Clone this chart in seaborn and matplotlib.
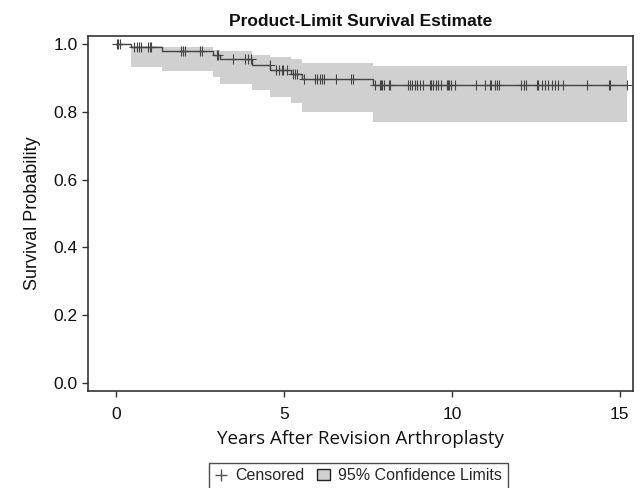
import numpy as np
import matplotlib
matplotlib.use("Agg")
import matplotlib.pyplot as plt
import seaborn as sns
from matplotlib.lines import Line2D
from matplotlib.patches import Patch

# Kaplan-Meier steps
event_years = [0.0, 0.45, 1.36, 2.90, 3.10, 4.06, 4.60, 5.20, 5.53, 7.66]
survival = [1.0, 0.991, 0.980, 0.969, 0.955, 0.939, 0.925, 0.913, 0.896, 0.879]
ci_upper = [1.0, 0.995, 0.992, 0.984, 0.981, 0.968, 0.963, 0.955, 0.946, 0.935]
ci_lower = [1.0, 0.933, 0.922, 0.904, 0.883, 0.864, 0.845, 0.826, 0.799, 0.771]
end_year = 15.2

censored_years = [
    0.02, 0.07, 0.13, 0.54, 0.62, 0.69, 0.76, 0.96, 1.01, 1.04,
    1.93, 2.00, 2.07, 2.50, 2.55, 3.00, 3.04, 3.49, 3.84, 3.94, 4.01,
    4.58, 4.78, 4.86, 4.93, 4.98, 5.10, 5.26, 5.33, 5.38,
    5.60, 5.92, 5.99, 6.07, 6.14, 6.20, 6.55, 7.01, 7.06,
    7.71, 7.86, 7.89, 7.92, 7.98, 8.13, 8.17, 8.70, 8.75, 8.82, 8.90,
    8.97, 9.05, 9.13, 9.35, 9.38, 9.44, 9.52, 9.60, 9.69, 9.86, 9.89,
    9.92, 9.96, 10.09, 10.73, 10.98, 11.13, 11.16, 11.28, 11.33, 11.41,
    12.07, 12.14, 12.22, 12.52, 12.57, 12.67, 12.77, 12.87, 12.97, 13.07,
    13.17, 13.31, 14.01, 14.68, 14.70, 15.20,
]

sns.set_style("white")
plt.rcParams["font.family"] = ["Liberation Sans", "DejaVu Sans"]

fig = plt.figure(figsize=(6.4, 4.88), dpi=100)
ax = fig.add_axes([0.1375, 0.199, 0.852, 0.727])

t_step = np.array(event_years + [end_year])
s_step = np.array(survival + [survival[-1]])
lo_step = np.array(ci_lower + [ci_lower[-1]])
hi_step = np.array(ci_upper + [ci_upper[-1]])

band = t_step >= event_years[1]
ax.fill_between(t_step[band], lo_step[band], hi_step[band], step="post",
                color="#d0d0d0", linewidth=0, zorder=1)

sns.lineplot(x=t_step, y=s_step, drawstyle="steps-post", color="#444444",
             linewidth=1.0, estimator=None, ax=ax, zorder=3)

cens = np.array(censored_years)
idx = np.searchsorted(np.array(event_years), cens, side="right") - 1
cens_y = np.array(survival)[idx]
ax.plot(cens, cens_y, linestyle="none", marker="+", markersize=6.5,
        markeredgewidth=0.8, color="#444444", zorder=4)

ax.set_xlim(-0.83, 15.4)
ax.set_ylim(-0.024, 1.024)
ax.set_xticks([0, 5, 10, 15])
ax.set_yticks([0.0, 0.2, 0.4, 0.6, 0.8, 1.0])
ax.set_yticklabels(["0.0", "0.2", "0.4", "0.6", "0.8", "1.0"])
ax.tick_params(axis="both", which="both", direction="out", length=4.5, width=1,
               color="#333333", labelsize=12.5, labelcolor="#111111",
               left=True, bottom=True, pad=3)
ax.tick_params(axis="x", pad=7)
for sp in ax.spines.values():
    sp.set_color("#333333")
    sp.set_linewidth(1.2)

ax.set_ylabel("Survival Probability", fontsize=13, labelpad=9, color="#111111")
ax.set_xlabel("Years After Revision Arthroplasty", fontsize=13.5,
              family=["Open Sans", "DejaVu Sans"], labelpad=6, color="#111111")
ax.set_title("Product-Limit Survival Estimate", fontsize=12.5, fontweight="bold",
             pad=7, color="#111111")

handles = [
    Line2D([], [], linestyle="none", marker="+", markersize=8, color="#555555"),
    Patch(facecolor="#d0d0d0", edgecolor="#222222", linewidth=1.0),
]
leg = fig.legend(handles, ["Censored", "95% Confidence Limits"], loc="lower center",
                 bbox_to_anchor=(0.56, -0.018), ncol=2, frameon=True, fancybox=False,
                 fontsize=11.5, handlelength=0.8, handletextpad=0.5, columnspacing=0.8,
                 borderpad=0.35)
leg.get_frame().set_edgecolor("#222222")
leg.get_frame().set_linewidth(1.0)

fig.savefig("out.png", dpi=100)
